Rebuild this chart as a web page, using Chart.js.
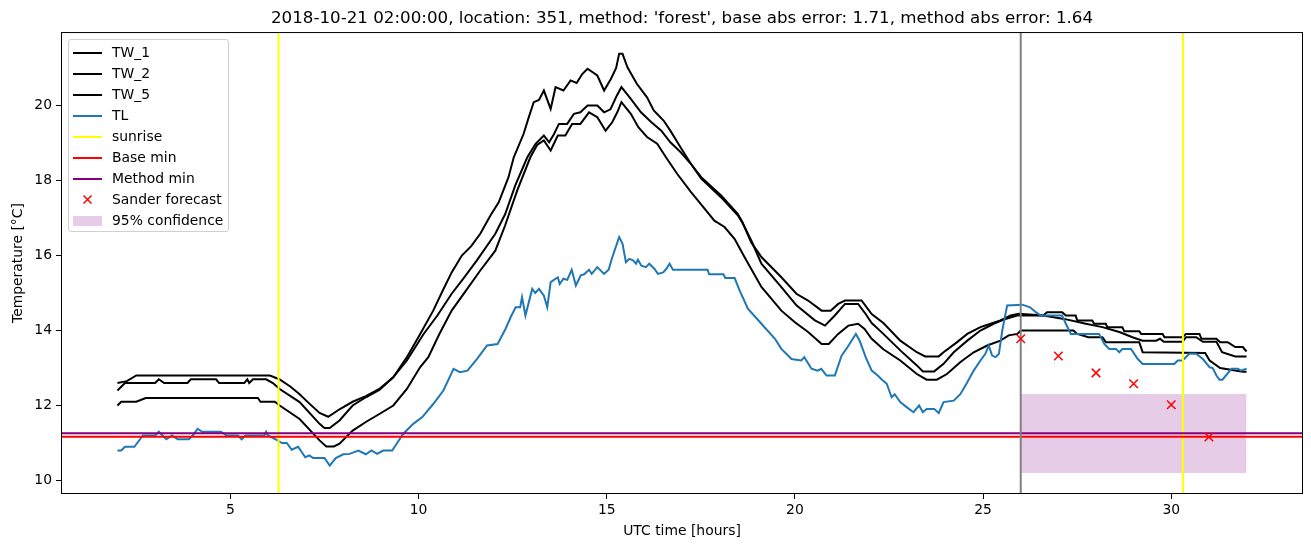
<!DOCTYPE html>
<html lang="en">

<head>
    <meta charset="UTF-8" />
    <title>Temperature forecast</title>
    <style>
        body { margin: 0; background: #fff; font-family: 'DejaVu Sans', sans-serif; }
        #wrap { position: relative; width: 1311px; height: 547px; }
        #legend {
            position: absolute; left: 68px; top: 39px; width: 161px; height: 193px;
            box-sizing: border-box; border: 1px solid #d0d0d0; border-radius: 3px;
            background: rgba(255, 255, 255, 0.8); padding-top: 2px;
        }
        .row { position: relative; height: 21px; line-height: 21px; font-size: 13.9px; color: #000; }
        .row .h { position: absolute; left: 4px; top: 10px; width: 29px; height: 2px; }
        .row .t { position: absolute; left: 43px; top: 0; white-space: nowrap; }
    </style>
</head>

<body>
    <div id="wrap">
        <canvas id="chart" width="1311" height="547"></canvas>
        <div id="legend"></div>
    </div>

    <script src="https://cdn.jsdelivr.net/npm/chart.js"></script>

    <script>
        // axis ticks
        const xTicks = [5, 10, 15, 20, 25, 30];
        const yTicks = [10, 12, 14, 16, 18, 20];

        // [UTC hour, temperature]
        const tw1 = [[2.0,12.6],[2.25,12.65],[2.5,12.8],[6.05,12.8],[6.3,12.7],[6.6,12.5],[6.84,12.3],[7.1,12.05],[7.37,11.8],[7.6,11.7],[7.9,11.9],[8.25,12.1],[8.6,12.25],[8.97,12.45],[9.33,12.75],[9.69,13.29],[10.04,13.9],[10.39,14.53],[10.66,15.1],[10.88,15.55],[11.15,16.0],[11.4,16.25],[11.64,16.58],[11.91,17.07],[12.13,17.42],[12.39,18.09],[12.53,18.62],[12.79,19.24],[12.93,19.69],[13.06,20.09],[13.2,20.15],[13.33,20.4],[13.51,19.91],[13.64,20.49],[13.85,20.4],[14.04,20.67],[14.2,20.6],[14.35,20.84],[14.49,20.98],[14.75,20.8],[14.93,20.4],[15.11,20.71],[15.25,21.0],[15.33,21.38],[15.42,21.38],[15.55,21.02],[15.8,20.58],[16.07,20.22],[16.25,19.87],[16.51,19.6],[16.69,19.33],[16.96,18.89],[17.24,18.44],[17.51,18.09],[18.04,17.6],[18.48,17.11],[18.6,16.9],[18.84,16.35],[19.11,15.96],[19.64,15.42],[20.04,14.98],[20.35,14.8],[20.71,14.53],[20.95,14.53],[21.15,14.71],[21.33,14.8],[21.77,14.8],[22.04,14.44],[22.35,14.2],[22.8,13.73],[23.24,13.42],[23.46,13.31],[23.82,13.31],[23.95,13.42],[24.31,13.69],[24.58,13.91],[24.93,14.09],[25.2,14.18],[25.46,14.27],[25.73,14.4],[25.95,14.45],[26.6,14.4],[26.7,14.49],[27.1,14.49],[27.2,14.4],[27.46,14.4],[27.5,14.27],[27.9,14.27],[27.95,14.18],[28.26,14.18],[28.3,14.09],[28.7,14.09],[28.75,13.98],[29.15,13.98],[29.2,13.91],[29.77,13.91],[29.82,13.82],[30.3,13.82],[30.39,13.91],[30.75,13.91],[30.8,13.78],[31.2,13.78],[31.3,13.69],[31.5,13.69],[31.7,13.56],[31.9,13.56],[32.0,13.44]];
        const tw2 = [[2.0,12.4],[2.2,12.6],[3.0,12.6],[3.1,12.7],[3.24,12.6],[3.86,12.6],[3.95,12.7],[4.62,12.7],[4.7,12.6],[5.37,12.6],[5.45,12.7],[5.5,12.6],[5.6,12.7],[5.95,12.7],[6.13,12.6],[6.31,12.44],[6.84,12.09],[7.37,11.51],[7.5,11.4],[7.64,11.4],[7.9,11.6],[8.25,12.0],[8.6,12.22],[8.97,12.42],[9.33,12.76],[9.69,13.2],[10.13,13.9],[10.5,14.4],[10.88,14.98],[11.2,15.4],[11.55,15.87],[12.04,16.58],[12.3,17.1],[12.57,17.87],[12.89,18.62],[13.11,18.98],[13.33,19.2],[13.47,19.02],[13.6,19.24],[13.73,19.51],[13.95,19.51],[14.13,19.78],[14.3,19.82],[14.49,20.0],[14.75,20.0],[14.93,19.82],[15.1,19.9],[15.27,20.27],[15.39,20.49],[15.64,20.18],[15.91,19.82],[16.18,19.56],[16.45,19.33],[16.69,19.02],[16.96,18.76],[17.24,18.44],[17.51,18.05],[18.04,17.55],[18.5,17.05],[18.62,16.85],[18.84,16.4],[19.11,15.78],[19.64,15.16],[20.04,14.67],[20.53,14.27],[20.8,14.13],[21.06,14.4],[21.33,14.71],[21.68,14.71],[21.88,14.44],[22.04,14.2],[22.35,13.91],[22.8,13.47],[23.24,13.07],[23.4,12.91],[23.7,12.91],[23.95,13.11],[24.22,13.42],[24.58,13.73],[24.93,14.0],[25.28,14.18],[25.55,14.29],[25.9,14.4],[26.6,14.4],[27.15,14.31],[27.73,14.18],[28.17,14.09],[28.62,13.96],[28.97,13.82],[29.24,13.73],[29.6,13.73],[29.7,13.78],[29.8,13.7],[30.3,13.7],[30.39,13.82],[30.66,13.82],[30.84,13.7],[31.2,13.7],[31.35,13.42],[31.7,13.31],[32.0,13.31]];
        const tw5 = [[2.0,12.0],[2.1,12.1],[2.5,12.1],[2.75,12.2],[5.73,12.2],[5.8,12.1],[6.18,12.1],[6.31,12.0],[6.84,11.64],[7.37,11.07],[7.55,10.91],[7.75,10.91],[7.9,10.98],[8.25,11.33],[8.6,11.56],[8.97,11.78],[9.33,12.0],[9.69,12.44],[10.04,13.02],[10.26,13.29],[10.55,13.9],[10.88,14.53],[11.25,15.05],[11.64,15.6],[12.04,16.13],[12.3,16.8],[12.62,17.73],[12.97,18.62],[13.15,18.95],[13.33,19.07],[13.51,18.8],[13.7,19.2],[13.9,19.2],[14.08,19.51],[14.3,19.51],[14.53,19.82],[14.75,19.69],[14.97,19.33],[15.15,19.56],[15.28,19.82],[15.39,20.09],[15.64,19.78],[15.84,19.42],[16.07,19.16],[16.34,18.98],[16.6,18.58],[16.87,18.18],[17.24,17.69],[17.42,17.47],[17.86,16.93],[18.13,16.76],[18.4,16.44],[18.66,15.96],[19.11,15.16],[19.64,14.53],[20.0,14.22],[20.35,13.96],[20.71,13.64],[20.9,13.64],[21.15,13.91],[21.42,14.13],[21.68,14.18],[21.85,14.04],[22.04,13.78],[22.35,13.5],[22.8,13.2],[23.24,12.84],[23.5,12.69],[23.77,12.69],[24.04,12.84],[24.4,13.16],[24.75,13.42],[25.11,13.6],[25.46,13.73],[25.68,13.87],[25.91,13.91],[26.0,14.0],[27.4,14.0],[27.5,13.91],[27.8,13.82],[28.17,13.82],[28.26,13.69],[29.15,13.69],[29.24,13.42],[30.9,13.4],[31.02,13.2],[31.3,13.0],[31.9,12.9],[32.0,12.9]];
        const tl = [[2.0,10.8],[2.1,10.8],[2.2,10.9],[2.45,10.9],[2.6,11.1],[2.67,11.2],[3.0,11.2],[3.1,11.3],[3.2,11.2],[3.3,11.1],[3.45,11.2],[3.6,11.1],[3.9,11.1],[4.0,11.2],[4.13,11.38],[4.25,11.3],[4.75,11.3],[4.9,11.2],[5.2,11.2],[5.3,11.1],[5.4,11.2],[5.9,11.2],[5.95,11.3],[6.0,11.2],[6.2,11.1],[6.37,11.0],[6.5,11.0],[6.63,10.82],[6.8,10.9],[6.99,10.62],[7.1,10.67],[7.2,10.6],[7.5,10.6],[7.64,10.4],[7.8,10.6],[8.0,10.7],[8.17,10.71],[8.4,10.8],[8.6,10.7],[8.75,10.8],[8.9,10.71],[9.06,10.8],[9.3,10.8],[9.59,11.24],[9.86,11.51],[10.1,11.69],[10.39,12.04],[10.66,12.4],[10.93,12.98],[11.1,12.89],[11.3,12.93],[11.55,13.24],[11.82,13.6],[12.1,13.64],[12.31,14.04],[12.45,14.36],[12.58,14.62],[12.7,14.62],[12.75,14.89],[12.84,14.4],[13.02,15.11],[13.1,15.0],[13.2,15.11],[13.33,14.93],[13.42,14.62],[13.51,15.29],[13.7,15.42],[13.75,15.24],[13.85,15.38],[13.95,15.35],[14.07,15.62],[14.18,15.2],[14.31,15.47],[14.4,15.5],[14.53,15.62],[14.6,15.51],[14.75,15.69],[14.93,15.51],[15.05,15.62],[15.15,15.96],[15.33,16.49],[15.42,16.31],[15.51,15.82],[15.6,15.91],[15.7,15.87],[15.78,15.78],[15.83,15.89],[15.92,15.73],[16.04,15.69],[16.13,15.78],[16.27,15.64],[16.36,15.51],[16.5,15.55],[16.58,15.64],[16.67,15.78],[16.76,15.62],[17.68,15.62],[17.72,15.5],[18.1,15.5],[18.15,15.4],[18.4,15.4],[18.53,15.07],[18.75,14.58],[19.11,14.18],[19.47,13.78],[19.64,13.51],[19.91,13.24],[20.17,13.2],[20.25,13.29],[20.44,12.98],[20.6,12.93],[20.7,12.98],[20.84,12.8],[21.06,12.8],[21.24,13.33],[21.4,13.56],[21.62,13.91],[21.72,13.73],[21.88,13.29],[22.04,12.93],[22.2,12.8],[22.3,12.7],[22.44,12.58],[22.57,12.22],[22.65,12.3],[22.8,12.09],[22.95,11.97],[23.15,11.82],[23.3,12.0],[23.4,11.82],[23.5,11.91],[23.7,11.91],[23.82,11.8],[23.95,12.09],[24.22,12.13],[24.4,12.31],[24.58,12.62],[24.75,12.93],[24.93,13.2],[25.06,13.38],[25.15,13.6],[25.24,13.33],[25.33,13.29],[25.42,13.38],[25.51,14.0],[25.64,14.67],[26.04,14.69],[26.25,14.62],[26.4,14.49],[26.53,14.4],[27.1,14.4],[27.2,14.18],[27.33,13.91],[28.08,13.91],[28.22,13.64],[28.35,13.51],[28.53,13.51],[28.62,13.42],[28.7,13.51],[28.93,13.51],[29.11,13.24],[29.24,13.11],[30.08,13.11],[30.17,13.2],[30.3,13.2],[30.48,13.38],[30.66,13.38],[30.84,13.24],[31.02,13.02],[31.1,13.0],[31.2,12.8],[31.28,12.69],[31.36,12.69],[31.6,12.98],[31.77,12.98],[31.85,12.93],[32.0,12.98]];

        const sunriseHours = [6.28, 30.31];
        const forecastStart = 26;
        const baseMin = 11.17;
        const methodMin = 11.26;
        const forecastHours = [26, 27, 28, 29, 30, 31];
        const forecastTemps = [13.78, 13.32, 12.87, 12.58, 12.02, 11.16];
        const confHours = [26, 32];
        const confLow = [10.2, 10.2];
        const confHigh = [12.31, 12.31];

        const X_MIN = 0.5, X_MAX = 33.5, Y_MIN = 9.64, Y_MAX = 21.96;

        const pts = arr => arr.map(([x, y]) => ({ x, y }));
        const vlines = hours => hours.flatMap((h, i) =>
            (i ? [{ x: h, y: null }] : []).concat([{ x: h, y: Y_MIN }, { x: h, y: Y_MAX }]));
        const hline = v => [{ x: X_MIN, y: v }, { x: X_MAX, y: v }];

        const line = (label, data, color, extra) => Object.assign({
            label, data, borderColor: color, backgroundColor: color,
            borderWidth: 2, pointRadius: 0, tension: 0, fill: false
        }, extra || {});

        const datasets = [
            line('TW_1', pts(tw1), '#000000', { order: 8 }),
            line('TW_2', pts(tw2), '#000000', { order: 8 }),
            line('TW_5', pts(tw5), '#000000', { order: 8 }),
            line('TL', pts(tl), '#1f77b4', { order: 7 }),
            line('sunrise', vlines(sunriseHours), '#ffff00', { order: 6, spanGaps: false }),
            line('Base min', hline(baseMin), '#ff0000', { order: 5 }),
            line('Method min', hline(methodMin), '#800080', { order: 4 }),
            {
                label: 'Sander forecast', order: 1, showLine: false,
                data: forecastHours.map((h, i) => ({ x: h, y: forecastTemps[i] })),
                pointStyle: 'crossRot', pointRadius: 6, pointBorderWidth: 1.5,
                borderColor: '#ff0000', backgroundColor: '#ff0000'
            },
            line('_conf_low', confHours.map((h, i) => ({ x: h, y: confLow[i] })), 'rgba(0,0,0,0)', { order: 10, borderWidth: 0 }),
            line('95% confidence', confHours.map((h, i) => ({ x: h, y: confHigh[i] })), 'rgba(0,0,0,0)',
                { order: 9, borderWidth: 0, fill: '-1', backgroundColor: 'rgba(128,0,128,0.2)' }),
            line('_now', vlines([forecastStart]), '#808080', { order: 3 })
        ];

        const frame = {
            id: 'frame',
            afterDraw(chart) {
                const { ctx, chartArea: a } = chart;
                ctx.save();
                ctx.strokeStyle = '#000';
                ctx.lineWidth = 1;
                ctx.strokeRect(a.left + 0.5, a.top + 0.5, a.right - a.left - 1, a.bottom - a.top - 1);
                ctx.restore();
            }
        };

        const fixTicks = list => scale => { scale.ticks = list.map(v => ({ value: v })); };

        Chart.defaults.font.family = "'DejaVu Sans', sans-serif";
        Chart.defaults.color = '#000';

        const chart = new Chart(document.getElementById('chart'), {
            type: 'line',
            data: { datasets },
            plugins: [frame],
            options: {
                responsive: false,
                animation: false,
                devicePixelRatio: 1,
                layout: { padding: { left: 0, right: 8, top: 0, bottom: 0 } },
                plugins: {
                    legend: { display: false },
                    tooltip: { enabled: false },
                    title: {
                        display: true,
                        fullSize: false,
                        text: "2018-10-21 02:00:00, location: 351, method: 'forest', base abs error: 1.71, method abs error: 1.64",
                        color: '#000',
                        font: { size: 16.7, weight: 'normal', lineHeight: 1.2 },
                        padding: { top: 9, bottom: 3 }
                    }
                },
                scales: {
                    x: {
                        type: 'linear', min: X_MIN, max: X_MAX,
                        afterBuildTicks: fixTicks(xTicks),
                        afterFit: s => { s.height = 53; },
                        border: { display: false },
                        grid: { drawOnChartArea: false, drawTicks: true, tickLength: 5, tickColor: '#000', tickWidth: 1 },
                        ticks: { color: '#000', font: { size: 13.9 }, padding: 3, maxRotation: 0 },
                        title: { display: true, text: 'UTC time [hours]', color: '#000', font: { size: 13.9 }, padding: { top: 0, bottom: 7 } }
                    },
                    y: {
                        type: 'linear', min: Y_MIN, max: Y_MAX,
                        afterBuildTicks: fixTicks(yTicks),
                        afterFit: s => { s.width = 61; },
                        border: { display: false },
                        grid: { drawOnChartArea: false, drawTicks: true, tickLength: 5, tickColor: '#000', tickWidth: 1 },
                        ticks: { color: '#000', font: { size: 13.9 }, padding: 4 },
                        title: { display: true, text: 'Temperature [°C]', color: '#000', font: { size: 13.9 }, padding: { top: 10, bottom: 0 } }
                    }
                }
            }
        });

        // matplotlib-style legend box, built from the chart's own datasets
        const legend = document.getElementById('legend');
        chart.data.datasets.filter(d => !d.label.startsWith('_')).forEach(d => {
            const row = document.createElement('div');
            row.className = 'row';
            let handle;
            if (d.label === 'Sander forecast') {
                handle = '<svg class="h" style="top:5px;height:11px" width="29" height="11"><path d="M10.5 1.5 L18.5 9.5 M18.5 1.5 L10.5 9.5" stroke="' + d.borderColor + '" stroke-width="1.5"/></svg>';
            } else if (d.fill === '-1') {
                handle = '<div class="h" style="top:6px;height:10px;background:' + d.backgroundColor + '"></div>';
            } else {
                handle = '<div class="h" style="background:' + d.borderColor + '"></div>';
            }
            row.innerHTML = handle + '<span class="t">' + d.label + '</span>';
            legend.appendChild(row);
        });
    </script>
</body>

</html>
